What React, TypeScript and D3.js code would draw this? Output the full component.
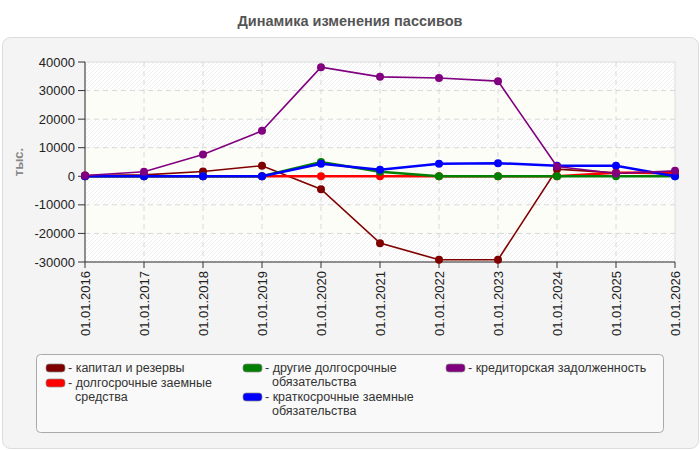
import React from "react"
import * as d3 from "d3"

// data
const dates = ["01.01.2016", "01.01.2017", "01.01.2018", "01.01.2019", "01.01.2020", "01.01.2021", "01.01.2022", "01.01.2023", "01.01.2024", "01.01.2025", "01.01.2026"]
const capital = [300, 500, 1700, 3700, -4500, -23400, -29200, -29200, 2500, 1200, 900]
const longLoans = [0, 0, 0, 0, 0, 0, 0, 0, 0, 1200, 1300]
const otherLong = [0, 0, 0, 0, 5000, 1600, 0, 0, 0, 0, 0]
const shortLoans = [0, 0, 0, 0, 4400, 2300, 4400, 4600, 3700, 3700, 0]
const payables = [300, 1600, 7600, 15900, 38200, 34800, 34400, 33300, 3400, 1000, 1900]
const yTicks = [40000, 30000, 20000, 10000, 0, -10000, -20000, -30000]

const series = [
  { name: "капитал и резервы", color: "#800000", values: capital, width: 1.6 },
  { name: "долгосрочные заемные средства", color: "#ff0000", values: longLoans, width: 2.5 },
  { name: "другие долгосрочные обязательства", color: "#008000", values: otherLong, width: 2.5 },
  { name: "краткосрочные заемные обязательства", color: "#0000ff", values: shortLoans, width: 2.5 },
  { name: "кредиторская задолженность", color: "#800080", values: payables, width: 1.6 },
]

// legend layout: column x, baseline y, wrapped lines
const legendItems = [
  { s: 0, x: 46, y: 372, lines: ["капитал и резервы"] },
  { s: 1, x: 46, y: 387, lines: ["долгосрочные заемные", "средства"] },
  { s: 2, x: 243, y: 372, lines: ["другие долгосрочные", "обязательства"] },
  { s: 3, x: 243, y: 401, lines: ["краткосрочные заемные", "обязательства"] },
  { s: 4, x: 446, y: 372, lines: ["кредиторская задолженность"] },
]

const font = "'Liberation Sans', Arial, sans-serif"

export default function App() {
  const left = 85, right = 675, top = 62, bottom = 262
  const x = d3.scalePoint<string>().domain(dates).range([left, right])
  const y = d3.scaleLinear().domain([-30000, 40000]).range([bottom, top])
  const line = d3.line<number>().x((_, i) => x(dates[i])!).y((d) => y(d))

  return (
    <>
      <style>{"body{margin:0}"}</style>
      <svg width={700} height={450} style={{ display: "block", fontFamily: font }}>
        <defs>
          <pattern id="hatch" width={4} height={4} patternUnits="userSpaceOnUse">
            <rect width={4} height={4} fill="#ffffff" />
            <path d="M-1,1 l2,-2 M0,4 l4,-4 M3,5 l2,-2" stroke="#efefef" strokeWidth={1} />
          </pattern>
        </defs>
        <rect width={700} height={450} fill="#fff" />
        <text x={350} y={26} textAnchor="middle" fontSize={14.5} fontWeight="bold" fill="#555">
          Динамика изменения пассивов
        </text>
        <rect x={2.5} y={37.5} width={696} height={411} rx={8} fill="#f4f4f4" stroke="#dcdcdc" />

        {/* plot bands */}
        {yTicks.slice(0, -1).map((t, i) => (
          <rect key={t} x={left} y={y(t)} width={right - left} height={y(yTicks[i + 1]) - y(t)}
            fill={i % 2 === 0 ? "url(#hatch)" : "#fdfdf7"} />
        ))}
        <rect x={left} y={top} width={right - left} height={bottom - top} fill="none" stroke="#dcdcdc" />

        {/* grid */}
        {yTicks.slice(1, -1).map((t) => (
          <line key={t} x1={left} x2={right} y1={y(t)} y2={y(t)} stroke="#d8d8d8" strokeDasharray="5,4" />
        ))}
        {dates.slice(1, -1).map((d) => (
          <line key={d} x1={x(d)} x2={x(d)} y1={top} y2={bottom} stroke="#d8d8d8" strokeDasharray="5,4" />
        ))}

        {/* axes */}
        <line x1={left} x2={left} y1={top} y2={bottom} stroke="#333" />
        <line x1={left} x2={right} y1={bottom} y2={bottom} stroke="#333" />
        {yTicks.map((t) => (
          <g key={t}>
            <line x1={left - 7} x2={left} y1={y(t)} y2={y(t)} stroke="#333" />
            <text x={left - 10} y={y(t) + 4.5} textAnchor="end" fontSize={13} fill="#222">{t}</text>
          </g>
        ))}
        {dates.map((d) => (
          <g key={d}>
            <line x1={x(d)} x2={x(d)} y1={bottom} y2={bottom + 6} stroke="#333" />
            <text transform={`translate(${x(d)! + 4.5},${bottom + 9}) rotate(-90)`} textAnchor="end" fontSize={13} fill="#222">{d}</text>
          </g>
        ))}
        <text transform="translate(23,162) rotate(-90)" textAnchor="middle" fontSize={13} fontWeight="bold" fill="#888">тыс.</text>

        {/* series */}
        {series.map((s) => (
          <g key={s.name}>
            <path d={line(s.values)!} fill="none" stroke={s.color} strokeWidth={s.width} />
            {s.values.map((v, i) => (
              <circle key={i} cx={x(dates[i])} cy={y(v)} r={4} fill={s.color} />
            ))}
          </g>
        ))}

        {/* legend */}
        <rect x={36.5} y={354.5} width={627} height={78} rx={4} fill="#f9f9f9" stroke="#aaa" />
        {legendItems.map((it) => (
          <g key={it.s}>
            <rect x={it.x} y={it.y - 8} width={19} height={8} rx={3} fill={series[it.s].color} stroke="#888" strokeWidth={0.7} />
            <text y={it.y} fontSize={12.5} fill="#333">
              {it.lines.map((l, j) => (
                <tspan key={j} x={j === 0 ? it.x + 22 : it.x + 29} dy={j === 0 ? 0 : 14}>{(j === 0 ? "- " : "") + l}</tspan>
              ))}
            </text>
          </g>
        ))}
      </svg>
    </>
  )
}
